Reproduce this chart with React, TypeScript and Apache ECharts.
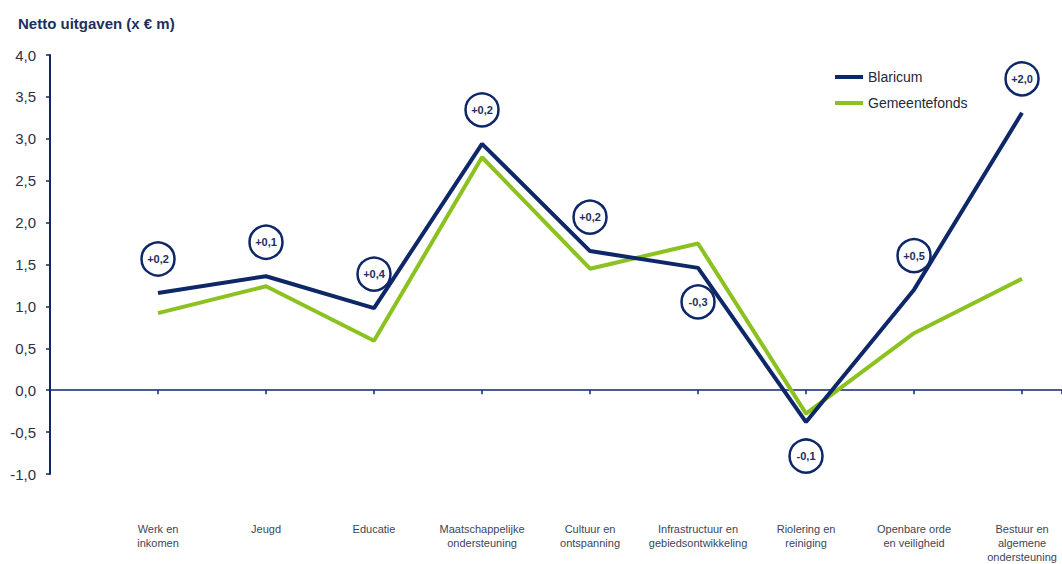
import React, { useEffect, useRef } from "react";
import * as echarts from "echarts";

const categories = [
  "Werk en\ninkomen",
  "Jeugd",
  "Educatie",
  "Maatschappelijke\nondersteuning",
  "Cultuur en\nontspanning",
  "Infrastructuur en\ngebiedsontwikkeling",
  "Riolering en\nreiniging",
  "Openbare orde\nen veiligheid",
  "Bestuur en\nalgemene\nondersteuning",
];
const blaricum = [1.16, 1.36, 0.98, 2.94, 1.66, 1.46, -0.38, 1.2, 3.31];
const gemeentefonds = [0.92, 1.24, 0.59, 2.78, 1.45, 1.75, -0.28, 0.68, 1.33];
const differenceLabels = ["+0,2", "+0,1", "+0,4", "+0,2", "+0,2", "-0,3", "-0,1", "+0,5", "+2,0"];
const seriesNames = ["Blaricum", "Gemeentefonds"];
const titleText = "Netto uitgaven (x € m)";

const NAVY = "#0e2769";
const GREEN = "#8cc21f";

export default function App() {
  const ref = useRef<HTMLDivElement>(null);
  useEffect(() => {
    if (!ref.current) return;
    const chart = echarts.init(ref.current, undefined, { renderer: "svg" });
    const xMin = -1;
    const xMax = 8.37;
    const fmtY = (v: number) => v.toFixed(1).replace(".", ",");
    chart.setOption({
      animation: false,
      backgroundColor: "#ffffff",
      title: {
        text: titleText,
        left: 13,
        top: 11,
        textStyle: { fontFamily: "Liberation Sans, Arial", fontSize: 15, fontWeight: "bold", color: "#1c2f5e" },
      },
      legend: {
        data: seriesNames,
        orient: "vertical",
        left: 830,
        top: 65,
        icon: "rect",
        itemWidth: 28,
        itemHeight: 4,
        itemGap: 12,
        textStyle: { fontFamily: "Liberation Sans, Arial", fontSize: 14, color: "#222a38" },
      },
      grid: { left: 50, right: 0, top: 55, bottom: 85, containLabel: false },
      xAxis: [
        {
          type: "value",
          min: xMin,
          max: xMax,
          interval: 1,
          axisLine: { onZero: true, lineStyle: { color: NAVY, width: 1.5 } },
          axisTick: { show: true, length: 4, lineStyle: { color: NAVY, width: 1.5 } },
          axisLabel: { show: false },
          splitLine: { show: false },
        },
        {
          type: "value",
          position: "bottom",
          min: xMin,
          max: xMax,
          interval: 1,
          axisLine: { show: false, onZero: false },
          axisTick: { show: false },
          splitLine: { show: false },
          axisLabel: {
            margin: 48,
            showMinLabel: false,
            showMaxLabel: false,
            fontFamily: "Liberation Sans, Arial",
            fontSize: 11,
            lineHeight: 14,
            color: "#3c4658",
            align: "center",
            verticalAlign: "top",
            formatter: (v: number) => {
              const i = Math.round(v);
              return Math.abs(v - i) < 1e-6 && i >= 0 && i < categories.length ? categories[i] : "";
            },
          },
        },
      ],
      yAxis: {
        type: "value",
        min: -1,
        max: 4,
        interval: 0.5,
        axisLine: { show: true, onZero: false, lineStyle: { color: NAVY, width: 2 } },
        axisTick: { show: true, length: 4, lineStyle: { color: NAVY, width: 1.5 } },
        splitLine: { show: false },
        axisLabel: {
          margin: 14,
          fontFamily: "Liberation Sans, Arial",
          fontSize: 15,
          color: "#2a3345",
          formatter: (v: number) => fmtY(v),
        },
      },
      series: [
        {
          name: seriesNames[1],
          type: "line",
          xAxisIndex: 0,
          symbol: "none",
          color: GREEN,
          lineStyle: { color: GREEN, width: 4 },
          data: gemeentefonds.map((v, i) => [i, v]),
          z: 3,
        },
        {
          name: seriesNames[0],
          type: "line",
          xAxisIndex: 0,
          symbol: "none",
          color: NAVY,
          lineStyle: { color: NAVY, width: 4 },
          data: blaricum.map((v, i) => [i, v]),
          z: 4,
        },
        {
          name: "verschil",
          type: "scatter",
          xAxisIndex: 0,
          symbol: "circle",
          symbolSize: 33,
          itemStyle: { color: "#ffffff", borderColor: NAVY, borderWidth: 2.5, opacity: 1 },
          z: 5,
          data: blaricum.map((v, i) => ({
            value: [i, v],
            symbolOffset: [0, differenceLabels[i].startsWith("-") ? 34 : -34],
            label: {
              show: true,
              position: "inside",
              formatter: differenceLabels[i],
              fontFamily: "Liberation Sans, Arial",
              fontSize: 11,
              fontWeight: "bold",
              color: "#1c2f5e",
            },
          })),
        },
      ],
    });
    return () => chart.dispose();
  }, []);
  return (
    <div
      ref={ref}
      style={{ position: "fixed", left: 0, top: 0, width: 1062, height: 564 }}
    />
  );
}
